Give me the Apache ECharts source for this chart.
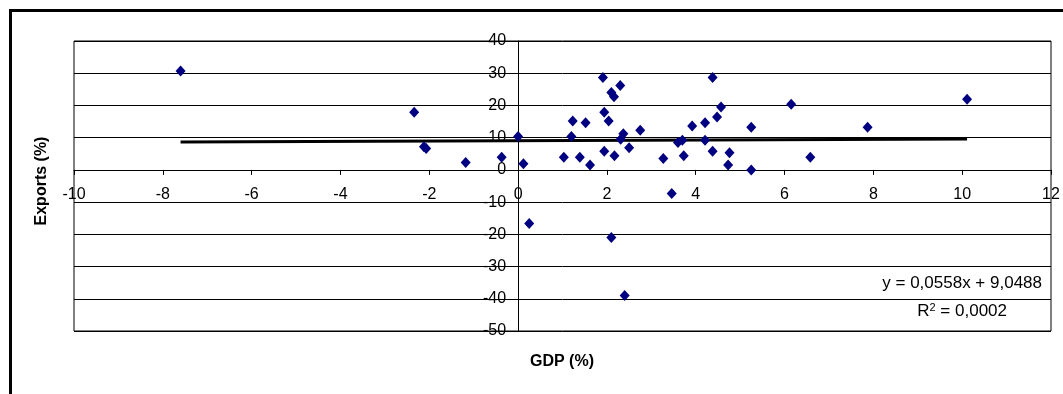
<!DOCTYPE html>
<html>
<head>
<meta charset="utf-8">
<script src="https://cdn.jsdelivr.net/npm/echarts@6/dist/echarts.min.js"></script>
<style>
html,body{margin:0;padding:0;background:#fff;}
#chart{width:1063px;height:394px;}
</style>
</head>
<body>
<div id="chart"></div>
<script>
// GDP growth (%) values
const gdp = [-7.60, -2.34, -2.12, -2.07, -1.18, -0.37, 0.00, 0.12, 0.25,
  1.03, 1.20, 1.23, 1.39, 1.52, 1.62, 1.91, 1.94, 1.94, 2.04, 2.10, 2.10, 2.16, 2.17,
  2.30, 2.31, 2.37, 2.40, 2.50, 2.75, 3.27, 3.46, 3.60, 3.70, 3.73, 3.92, 4.21, 4.21,
  4.38, 4.38, 4.48, 4.57, 4.73, 4.76, 5.25, 5.25, 6.15, 6.58, 7.87, 10.11];
// Exports growth (%) values
const exportsPct = [30.7, 17.9, 7.2, 6.6, 2.3, 3.9, 10.4, 1.9, -16.6,
  3.9, 10.4, 15.2, 3.9, 14.6, 1.5, 28.7, 17.9, 5.8, 15.2, 24.0, -21.0, 22.7, 4.4,
  26.2, 9.5, 11.2, -39.0, 6.9, 12.3, 3.5, -7.3, 8.5, 9.2, 4.4, 13.6, 14.6, 9.2,
  28.7, 5.8, 16.4, 19.5, 1.5, 5.3, 13.2, 0.0, 20.4, 3.9, 13.2, 21.9];
// Linear trendline coefficients
const trendCoef = [0.0558, 9.0488];
const xTicks = {min: -10, max: 12, step: 2};
const yTicks = {min: -50, max: 40, step: 10};
const eqLabel = 'y = 0,0558x + 9,0488';
const r2Label = '0,0002';

const points = gdp.map((x, i) => [x, exportsPct[i]]);
const xMin = Math.min(...gdp), xMax = Math.max(...gdp);
const trend = [xMin, xMax].map(x => [x, trendCoef[0] * x + trendCoef[1]]);

// grid geometry (pixels), axes crossing at zero
const G = {left: 74, top: 41, right: 12, bottom: 63, w: 1063, h: 394};
const gw = G.w - G.left - G.right, gh = G.h - G.top - G.bottom;
const xZeroOffset = -(gw * (0 - xTicks.min) / (xTicks.max - xTicks.min));
const yZeroOffset = -(gh * (0 - yTicks.min) / (yTicks.max - yTicks.min));

const font = 'Liberation Sans, Arial, sans-serif';
const chart = echarts.init(document.getElementById('chart'), null, {renderer: 'canvas'});
chart.setOption({
  animation: false,
  backgroundColor: '#fff',
  grid: {left: G.left, top: G.top, right: G.right, bottom: G.bottom, show: true, borderColor: '#000', borderWidth: 1, backgroundColor: 'transparent'},
  xAxis: {
    type: 'value', min: xTicks.min, max: xTicks.max, interval: xTicks.step,
    position: 'bottom', offset: yZeroOffset,
    axisLine: {onZero: false, lineStyle: {color: '#000', width: 1}},
    axisTick: {show: true, inside: false, length: 5, lineStyle: {color: '#000'}},
    axisLabel: {color: '#000', fontSize: 16, fontFamily: font, margin: 17, showMinLabel: true, showMaxLabel: true},
    splitLine: {show: false}
  },
  yAxis: {
    type: 'value', min: yTicks.min, max: yTicks.max, interval: yTicks.step,
    position: 'left', offset: xZeroOffset,
    axisLine: {onZero: false, lineStyle: {color: '#000', width: 1}},
    axisTick: {show: true, inside: false, length: 5, lineStyle: {color: '#000'}},
    axisLabel: {color: '#000', fontSize: 16, fontFamily: font, margin: 12, showMinLabel: true, showMaxLabel: true},
    splitLine: {show: true, lineStyle: {color: '#000', width: 1}}
  },
  series: [
    {
      type: 'line', data: trend, symbol: 'none', z: 2,
      lineStyle: {color: '#000', width: 3}
    },
    {
      type: 'scatter', data: points, symbol: 'diamond', symbolSize: [10, 11], z: 3,
      itemStyle: {color: '#000080', opacity: 1}
    }
  ],
  graphic: [
    {type: 'rect', shape: {x: 10.5, y: 10.5, width: 1200, height: 600}, style: {fill: 'none', stroke: '#000', lineWidth: 3}, silent: true},
    {type: 'text', x: 42, y: 181, rotation: Math.PI / 2,
      style: {text: 'Exports (%)', fontSize: 16, fontWeight: 'bold', fontFamily: font, fill: '#000', align: 'center', verticalAlign: 'middle'}},
    {type: 'text', x: 562, y: 362,
      style: {text: 'GDP (%)', fontSize: 16, fontWeight: 'bold', fontFamily: font, fill: '#000', align: 'center', verticalAlign: 'middle'}},
    {type: 'text', x: 1042, y: 283,
      style: {text: eqLabel, fontSize: 17, fontFamily: font, fill: '#000', align: 'right', verticalAlign: 'middle'}},
    {type: 'text', x: 1007, y: 311,
      style: {text: '{a|R}{s|2}{a| = ' + r2Label + '}', align: 'right', verticalAlign: 'middle',
        rich: {a: {fontSize: 17, fontFamily: font, color: '#000'}, s: {fontSize: 11, fontFamily: font, color: '#000', verticalAlign: 'top', padding: [0, 0, 7, 0]}}}}
  ]
});
</script>
</body>
</html>
